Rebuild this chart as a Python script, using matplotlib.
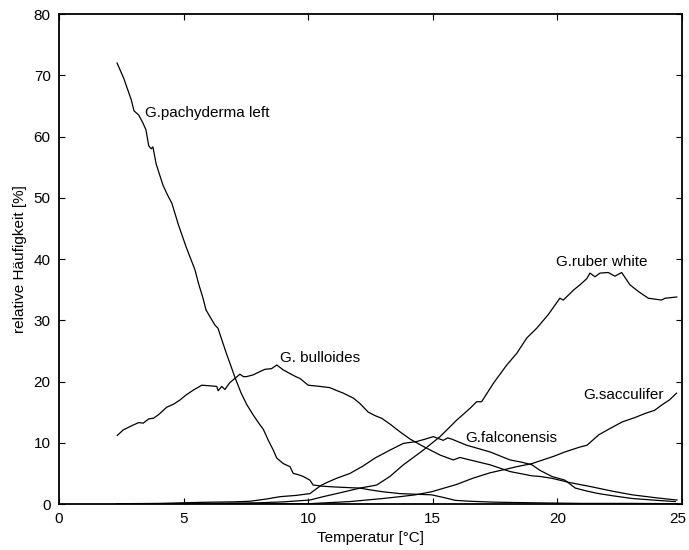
import numpy as np
import matplotlib.pyplot as plt
from matplotlib.transforms import ScaledTranslation

plt.rcParams['font.family'] = ['Liberation Sans', 'DejaVu Sans']
plt.rcParams['font.size'] = 11

# Temperatur [°C] und relative Häufigkeit [%] je Art
t_pachyderma = [2.33, 2.6, 2.9, 3.01, 3.2, 3.37, 3.49, 3.6, 3.7, 3.77, 3.9, 4.17, 4.35, 4.53,
                4.8, 5.1, 5.46, 5.6, 5.78, 5.9, 6.1, 6.26, 6.38, 6.7, 7.06, 7.3, 7.54, 7.8,
                8.07, 8.2, 8.4, 8.6, 8.74, 9.0, 9.27, 9.4, 9.6, 9.8, 10.07, 10.2, 10.6, 11.0,
                11.5, 12.08, 12.5, 13.0, 13.68, 14.3, 14.95, 15.4, 15.9, 16.5, 17.5, 19.0,
                21.0, 23.0, 24.8]
v_pachyderma = [72.0, 69.5, 66.0, 64.2, 63.5, 62.2, 61.1, 58.5, 58.0, 58.3, 55.5, 52.1, 50.5, 49.1,
                45.5, 42.0, 38.2, 36.0, 33.6, 31.7, 30.3, 29.2, 28.7, 24.8, 20.7, 18.2, 16.2, 14.5,
                12.9, 12.2, 10.4, 8.8, 7.5, 6.6, 6.1, 5.0, 4.8, 4.5, 3.9, 3.1, 2.9, 2.8,
                2.7, 2.6, 2.3, 2.0, 1.7, 1.6, 1.5, 1.1, 0.6, 0.45, 0.3, 0.2,
                0.1, 0.1, 0.05]

t_bulloides = [2.34, 2.58, 2.98, 3.2, 3.38, 3.6, 3.79, 4.0, 4.32, 4.6, 4.86, 5.1, 5.39, 5.73,
               6.06, 6.33, 6.39, 6.53, 6.66, 6.85, 7.06, 7.26, 7.4, 7.53, 7.8, 8.05, 8.27, 8.53,
               8.74, 9.0, 9.27, 9.5, 9.67, 10.0, 10.47, 10.87, 11.1, 11.41, 11.81, 12.08, 12.41,
               12.7, 12.95, 13.3, 13.68, 14.09, 14.62, 15.29, 15.82, 16.09, 16.49, 17.3, 18.1,
               18.98, 19.3, 19.78, 20.5, 21.39, 22.2, 23.0, 24.0, 24.8]
v_bulloides = [11.2, 12.1, 12.9, 13.3, 13.2, 13.9, 14.0, 14.6, 15.8, 16.3, 17.0, 17.8, 18.6, 19.4,
               19.3, 19.2, 18.5, 19.2, 18.7, 19.8, 20.5, 21.2, 20.8, 20.8, 21.1, 21.6, 22.0, 22.1,
               22.7, 21.9, 21.3, 20.8, 20.5, 19.4, 19.2, 19.0, 18.6, 18.1, 17.3, 16.4, 15.0,
               14.4, 14.0, 13.0, 11.8, 10.6, 9.4, 8.0, 7.2, 7.6, 7.2, 6.4, 5.3,
               4.6, 4.5, 4.2, 3.5, 2.8, 2.1, 1.5, 1.0, 0.65]

t_falconensis = [2.33, 4.0, 5.0, 6.0, 7.0, 7.66, 8.3, 8.87, 9.5, 10.07, 10.3, 10.54, 10.8, 11.14,
                 11.68, 12.2, 12.68, 13.28, 13.82, 14.35, 14.7, 15.02, 15.42, 15.6, 15.76, 16.36,
                 17.3, 18.1, 18.6, 18.98, 19.3, 19.78, 20.3, 20.72, 21.2, 21.66, 22.3, 23.0,
                 24.0, 24.73]
v_falconensis = [0.05, 0.1, 0.2, 0.3, 0.35, 0.45, 0.8, 1.2, 1.4, 1.7, 2.4, 3.1, 3.6, 4.2,
                 5.0, 6.2, 7.5, 8.8, 9.9, 10.2, 10.6, 11.0, 10.4, 10.8, 10.6, 9.6,
                 8.5, 7.2, 6.8, 6.4, 5.5, 4.5, 3.9, 2.6, 2.1, 1.7, 1.3, 0.9,
                 0.6, 0.4]

t_ruber = [2.33, 4.0, 6.0, 8.0, 9.0, 10.07, 10.6, 11.14, 12.08, 12.75, 13.28, 13.82, 14.62,
           15.29, 15.69, 15.96, 16.49, 16.76, 16.96, 17.43, 17.97, 18.37, 18.77, 19.17, 19.63,
           20.1, 20.24, 20.64, 20.91, 21.18, 21.31, 21.51, 21.71, 22.04, 22.31, 22.58, 22.91,
           23.25, 23.65, 24.18, 24.32, 24.79]
v_ruber = [0.0, 0.05, 0.1, 0.2, 0.35, 0.65, 1.2, 1.7, 2.6, 3.1, 4.5, 6.4, 8.8,
           11.0, 12.6, 13.7, 15.6, 16.7, 16.7, 19.7, 22.7, 24.6, 27.1, 28.7, 30.9,
           33.6, 33.3, 34.9, 35.8, 36.8, 37.7, 37.1, 37.7, 37.8, 37.2, 37.8, 35.8,
           34.7, 33.6, 33.3, 33.6, 33.8]

t_sacculifer = [2.33, 10.0, 11.68, 13.0, 13.68, 14.3, 14.95, 15.96, 16.6, 17.3, 17.96, 18.37,
                18.98, 19.86, 20.3, 20.9, 21.19, 21.66, 22.1, 22.6, 23.1, 23.53, 23.9, 24.2,
                24.5, 24.78]
v_sacculifer = [0.0, 0.05, 0.4, 0.9, 1.2, 1.5, 2.0, 3.2, 4.2, 5.1, 5.7, 6.1,
                6.6, 7.8, 8.5, 9.3, 9.6, 11.3, 12.3, 13.4, 14.1, 14.8, 15.3, 16.2,
                17.0, 18.1]

# Beschriftungen der Kurven (Text, x, y)
labels = ['G.pachyderma left', 'G. bulloides', 'G.ruber white', 'G.sacculifer', 'G.falconensis']
label_x = [3.45, 8.85, 19.95, 21.05, 16.3]
label_y = [63.8, 23.8, 39.5, 17.8, 10.8]

fig = plt.figure(figsize=(6.89, 5.5), dpi=100)
ax = fig.add_axes([0.0856, 0.0836, 0.9042, 0.8909])

for t, v in [(t_pachyderma, v_pachyderma), (t_bulloides, v_bulloides),
             (t_falconensis, v_falconensis), (t_ruber, v_ruber),
             (t_sacculifer, v_sacculifer)]:
    ax.plot(t, v, color='black', linewidth=0.9)

for s, x, y in zip(labels, label_x, label_y):
    ax.text(x, y, s, ha='left', va='center')

ax.set_xlim(0, 25)
ax.set_ylim(0, 80)
ax.set_xticks(np.arange(0, 26, 5))
ax.set_yticks(np.arange(0, 81, 10))
ax.tick_params(direction='in', length=4, width=0.8, top=True, right=True, pad=6)
for sp in ax.spines.values():
    sp.set_linewidth(1.3)
ax.set_xlabel('Temperatur [°C]', labelpad=3)
ax.set_ylabel('relative Häufigkeit [%]', labelpad=5)

# letzte Achsenbeschriftung ein wenig nach links, damit sie im Bild bleibt
last = ax.get_xticklabels()[-1]
last.set_transform(last.get_transform() + ScaledTranslation(-3 / 72, 0, fig.dpi_scale_trans))

fig.savefig('out.png', dpi=100)
